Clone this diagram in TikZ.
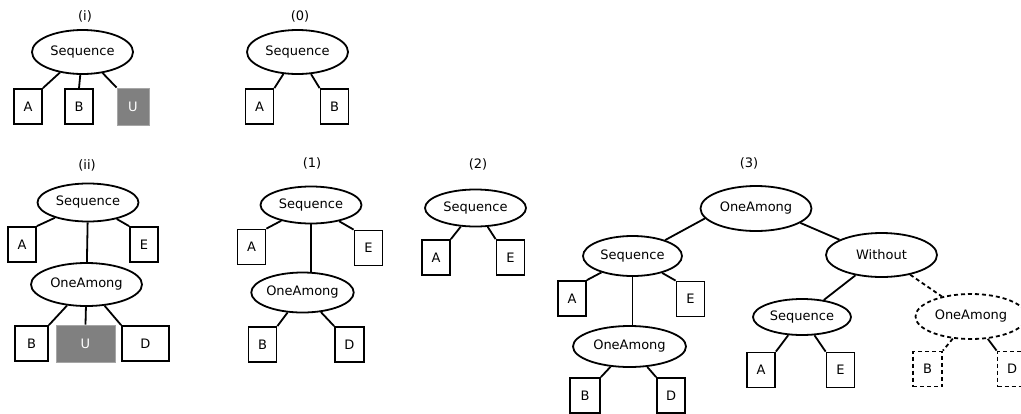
\documentclass[tikz,border=0pt]{standalone}
\usepackage{fontspec}
\setmainfont{DejaVu Sans}
\usepackage{tikz}
\usetikzlibrary{shapes.geometric}
\usepackage{xcolor}
\definecolor{unknowngray}{RGB}{128, 128, 128}

\begin{document}
\begin{tikzpicture}[
    x=1pt, y=-1pt, line width=1.8pt,
    every node/.style={font=\fontsize{13}{15}\selectfont},
    op/.style={ellipse, draw, inner sep=0pt, minimum width=101pt, minimum height=40pt},
    wideop/.style={op, minimum width=111pt, minimum height=43pt},
    leaf/.style={rectangle, draw, inner sep=0pt, minimum width=28pt, minimum height=35pt},
    hole/.style={rectangle, fill=unknowngray, draw=unknowngray!70, line width=0.8pt, text=white, inner sep=0pt, minimum height=37pt},
    ghost/.style={dash pattern=on 4pt off 3pt},
    tag/.style={inner sep=0pt}
]
\useasboundingbox (0,0) rectangle (1021,413);
\clip (0,0) rectangle (1021,413);

\node[tag] (li) at (85,16) {(i)};
\node[op, minimum height=44pt] (si) at (82.5,52) {Sequence};
\node[leaf] (ai) at (28,106.5) {A};
\node[leaf] (bi) at (79,106.5) {B};
\node[hole, minimum width=32pt] (ui) at (133,106.5) {U};
\draw (si) -- (ai.north east);
\draw (si) -- (bi.north);
\draw (si) -- (ui.north west);

\node[tag] (l0) at (300,16) {(0)};
\node[op, minimum height=44pt] (s0) at (297.5,52) {Sequence};
\node[leaf] (a0) at (259.5,106.5) {A};
\node[leaf] (b0) at (334.5,106.5) {B};
\draw (s0) -- (a0.north east);
\draw (s0) -- (b0.north west);

\node[tag] (lii) at (87,165) {(ii)};
\node[op, minimum height=38pt] (sii) at (88,202.5) {Sequence};
\node[leaf] (aii) at (22,244.5) {A};
\node[leaf] (eii) at (144,244.5) {E};
\node[wideop] (oii) at (86.5,284.5) {OneAmong};
\node[leaf, minimum width=33pt] (bii) at (31.5,343.5) {B};
\node[hole, minimum width=59pt] (uii) at (85.5,343.5) {U};
\node[leaf, minimum width=47pt] (dii) at (145.5,343.5) {D};
\draw (sii) -- (aii.north east);
\draw (sii) -- (eii.north west);
\draw (sii) -- (oii);
\draw (oii) -- (bii.north east);
\draw (oii) -- (uii.north);
\draw (oii) -- (dii.north west);

\node[tag] (l1) at (312,163) {(1)};
\node[op, minimum height=37pt] (s1) at (311,205) {Sequence};
\node[leaf] (a1) at (251.5,247) {A};
\node[leaf] (e1) at (368.5,248) {E};
\node[op, minimum height=40pt] (o1) at (302.5,292.5) {OneAmong};
\node[leaf] (b1) at (262.5,344.5) {B};
\node[leaf, minimum width=29pt] (d1) at (349.5,344.5) {D};
\draw (s1) -- (a1.north east);
\draw (s1) -- (e1.north west);
\draw (s1.south) -- (s1.south |- o1.north);
\draw (o1) -- (b1.north east);
\draw (o1) -- (d1.north west);

\node[tag] (l2) at (478,164) {(2)};
\node[op, minimum height=37pt] (s2) at (475.5,208) {Sequence};
\node[leaf] (a2) at (436,257.5) {A};
\node[leaf] (e2) at (510.5,257.5) {E};
\draw (s2) -- (a2.north east);
\draw (s2) -- (e2.north west);

\node[tag] (l3) at (749,163) {(3)};
\node[wideop, minimum height=45pt] (o3) at (756,208.5) {OneAmong};
\node[op, minimum width=99pt] (s3) at (632.5,256) {Sequence};
\node[wideop, minimum height=44pt] (w3) at (881.5,255) {Without};
\node[leaf] (a3) at (572,298.5) {A};
\node[leaf] (e3) at (690.5,299) {E};
\node[wideop, minimum width=113pt, minimum height=41pt] (oo3) at (629.5,346.5) {OneAmong};
\node[leaf, minimum width=30pt] (b3) at (585,395.5) {B};
\node[leaf] (d3) at (671,395.5) {D};
\node[op, minimum width=98pt, minimum height=36pt] (s3r) at (802,317) {Sequence};
\node[leaf] (a3r) at (761,370) {A};
\node[leaf] (e3r) at (840.5,370) {E};
\node[wideop, ghost, minimum height=45pt] (od) at (971,316.5) {OneAmong};
\node[leaf, ghost, minimum width=29pt] (bd) at (927.5,369) {B};
\node[leaf, ghost, minimum width=29pt] (dd) at (1012,369) {D};
\draw (o3.191) -- (s3.26);
\draw (o3.342) -- (w3.160);
\draw (s3) -- (a3.north east);
\draw (s3) -- (e3.north west);
\draw (s3.south) -- (s3.south |- oo3.north);
\draw (oo3) -- (b3.north east);
\draw (oo3) -- (d3.north west);
\draw (w3) -- (s3r);
\draw[ghost] (w3) -- (od);
\draw (s3r) -- (a3r.north east);
\draw (s3r) -- (e3r.north west);
\draw[ghost] (od) -- (bd.north east);
\draw (od) -- (dd.north west);
\end{tikzpicture}
\end{document}
